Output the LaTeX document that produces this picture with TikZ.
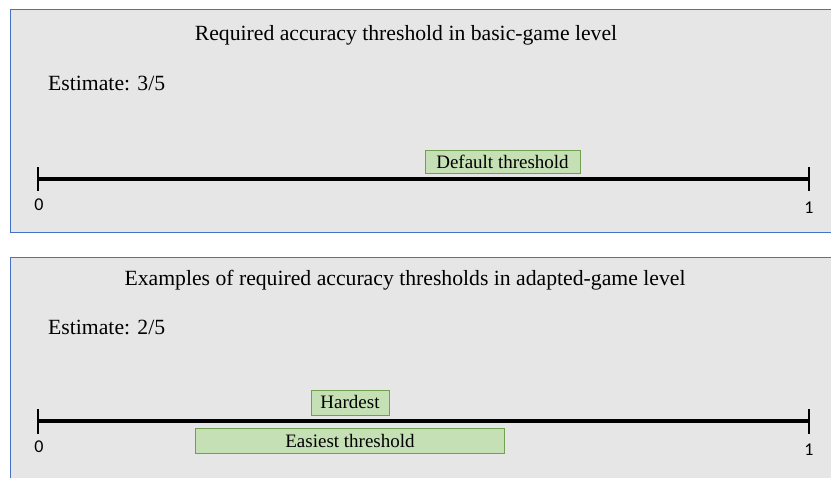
\documentclass[tikz,border=0pt]{standalone}
\usepackage{fontspec}
\setmainfont{Liberation Serif}
\newfontfamily\numfont{Carlito}
\definecolor{panelfill}{RGB}{231,230,230}
\definecolor{panelline}{RGB}{68,114,196}
\definecolor{boxfill}{RGB}{197,224,180}
\definecolor{boxline}{RGB}{112,160,80}
\tikzset{
  panel/.style={fill=panelfill, draw=panelline, line width=1bp},
  title/.style={font=\fontsize{21.7bp}{24bp}\selectfont, inner sep=0pt},
  axisline/.style={line width=4bp},
  tickline/.style={line width=2.5bp},
  numlabel/.style={font=\numfont\fontsize{18bp}{20bp}\selectfont, inner sep=0pt},
  thbox/.style={fill=boxfill, draw=boxline, line width=1bp, inner sep=0pt,
    font=\fontsize{19bp}{21bp}\selectfont}
}
\begin{document}
\begin{tikzpicture}[x=1bp,y=-1bp]
\useasboundingbox (0,0) rectangle (831,478);
\clip (0,0) rectangle (831,478);
% panel 1
\path[panel] (10.5,9.5) rectangle (845,233);
\node[title] (t1) at (406,35) {Required accuracy threshold in basic-game level};
\node[title, anchor=west] (e1) at (48,83) {Estimate: 3/5};
\coordinate (a1) at (38,179);
\coordinate (b1) at (809,179);
\draw[axisline] (a1) -- (b1);
\draw[tickline] ([yshift=-12bp]a1) -- ([yshift=12bp]a1);
\draw[tickline] ([yshift=-12bp]b1) -- ([yshift=12bp]b1);
\node[numlabel] (z1) at (39,205) {0};
\node[numlabel] (o1) at (809,208) {1};
\node[thbox, minimum width=155bp, minimum height=23.5bp] (d1) at (502.5,162) {Default threshold};
% panel 2
\path[panel] (10.5,257.5) rectangle (845,495);
\node[title] (t2) at (405,280) {Examples of required accuracy thresholds in adapted-game level};
\node[title, anchor=west] (e2) at (48,327) {Estimate: 2/5};
\coordinate (a2) at (38,421);
\coordinate (b2) at (809,421);
\draw[axisline] (a2) -- (b2);
\draw[tickline] ([yshift=-12.5bp]a2) -- ([yshift=12.5bp]a2);
\draw[tickline] ([yshift=-12.5bp]b2) -- ([yshift=12.5bp]b2);
\node[numlabel] (z2) at (39,447) {0};
\node[numlabel] (o2) at (809,450) {1};
\node[thbox, minimum width=78bp, minimum height=25bp] (h2) at (350,402.5) {Hardest};
\node[thbox, minimum width=309bp, minimum height=24.5bp] (es2) at (350,441) {Easiest threshold};
\end{tikzpicture}
\end{document}
